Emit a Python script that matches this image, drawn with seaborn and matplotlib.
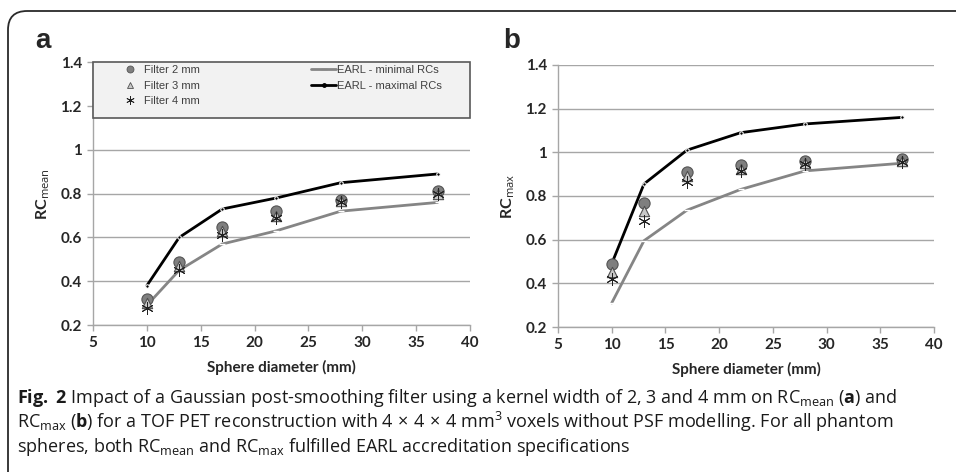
import numpy as np
import pandas as pd
import matplotlib
matplotlib.use("Agg")
import matplotlib.pyplot as plt
import seaborn as sns
from matplotlib.patches import FancyBboxPatch, Rectangle
from matplotlib.lines import Line2D

# sphere diameters (mm)
diameters = [10, 13, 17, 22, 28, 37]

# panel a: RC_mean
earl_min_mean = [0.29, 0.45, 0.57, 0.63, 0.72, 0.76]
earl_max_mean = [0.38, 0.60, 0.73, 0.78, 0.85, 0.89]
filt2_mean = [0.32, 0.49, 0.65, 0.72, 0.77, 0.81]
filt3_mean = [0.30, 0.47, 0.63, 0.70, 0.765, 0.80]
filt4_mean = [0.28, 0.45, 0.61, 0.69, 0.76, 0.80]

# panel b: RC_max
earl_min_max = [0.31, 0.595, 0.735, 0.83, 0.915, 0.95]
earl_max_max = [0.49, 0.855, 1.01, 1.09, 1.13, 1.16]
filt2_max = [0.49, 0.77, 0.91, 0.94, 0.96, 0.97]
filt3_max = [0.45, 0.73, 0.89, 0.925, 0.95, 0.96]
filt4_max = [0.42, 0.685, 0.865, 0.915, 0.945, 0.955]

x_ticks = [5, 10, 15, 20, 25, 30, 35, 40]
y_ticks = [0.2, 0.4, 0.6, 0.8, 1.0, 1.2, 1.4]
y_ticklabels = ['0.2', '0.4', '0.6', '0.8', '1', '1.2', '1.4']

sns.set_style("white")
plt.rcParams['font.family'] = ['Lato', 'DejaVu Sans']
plt.rcParams['mathtext.fontset'] = 'custom'
plt.rcParams['mathtext.rm'] = 'Open Sans'
plt.rcParams['mathtext.bf'] = 'Open Sans:bold'
plt.rcParams['mathtext.it'] = 'Open Sans:italic'

fig = plt.figure(figsize=(9.56, 4.72), dpi=100)

# rounded frame around figure + caption
frame = FancyBboxPatch((8 / 956, -0.1), 1.1, 1.1 - 11 / 472,
                       boxstyle="round,pad=0,rounding_size=0.02",
                       transform=fig.transFigure, fill=False,
                       edgecolor='#2a2a2a', linewidth=1.3, mutation_aspect=2)
fig.patches.append(frame)

ax_a = fig.add_axes([0.0973, 0.3114, 0.3943, 0.5566])
ax_b = fig.add_axes([0.5837, 0.3072, 0.3933, 0.5551])


def draw_panel(ax, earl_min, earl_max, f2, f3, f4, ylab):
    sns.lineplot(x=diameters, y=earl_min, ax=ax, color='#858585', linewidth=2,
                 marker='_', markersize=5, markeredgewidth=1, zorder=3)
    sns.lineplot(x=diameters, y=earl_max, ax=ax, color='black', linewidth=2,
                 marker='o', markersize=2.5, zorder=3)
    sns.scatterplot(x=diameters, y=f2, ax=ax, marker='o', s=65, color='#7f7f7f',
                    edgecolor='#555555', linewidth=0.8, zorder=4)
    sns.scatterplot(x=diameters, y=f3, ax=ax, marker='^', s=55, color='#c8c8c8',
                    edgecolor='#505050', linewidth=0.8, zorder=5)
    sns.scatterplot(x=diameters, y=f4, ax=ax, marker=(6, 2, 0), s=70, color='#222222',
                    edgecolor='#222222', linewidth=0.7, zorder=6)

    ax.set_xlim(5, 40)
    ax.set_ylim(0.2, 1.4)
    ax.set_xticks(x_ticks)
    ax.set_yticks(y_ticks)
    ax.set_yticklabels(y_ticklabels)
    ax.yaxis.grid(True, color='#a6a6a6', linewidth=1)
    ax.xaxis.grid(False)
    ax.set_axisbelow(True)
    for side in ['top', 'right']:
        ax.spines[side].set_visible(False)
    for side in ['left', 'bottom']:
        ax.spines[side].set_color('#a6a6a6')
        ax.spines[side].set_linewidth(1)
    ax.tick_params(axis='both', direction='out', length=4, width=1, color='#a6a6a6',
                   labelsize=11, pad=4, left=True, bottom=True)
    for lab in ax.get_xticklabels() + ax.get_yticklabels():
        lab.set_fontweight('bold')
    ax.set_xlabel('Sphere diameter (mm)', fontsize=11, fontweight='bold', labelpad=7)
    ax.set_ylabel(ylab, fontsize=11.5, fontweight='bold', labelpad=6)


draw_panel(ax_a, earl_min_mean, earl_max_mean, filt2_mean, filt3_mean, filt4_mean,
           r'RC$_{\mathrm{mean}}$')
draw_panel(ax_b, earl_min_max, earl_max_max, filt2_max, filt3_max, filt4_max,
           r'RC$_{\mathrm{max}}$')

# legend box in panel a
ax_a.add_patch(Rectangle((0, 0.788), 1, 0.212, transform=ax_a.transAxes,
                         facecolor='#f2f2f2', edgecolor='#595959', linewidth=1.2,
                         zorder=8, clip_on=False))
handles = [
    Line2D([], [], linestyle='none', marker='o', markersize=5, color='#7f7f7f',
           markeredgecolor='#555555', markeredgewidth=0.6),
    Line2D([], [], linestyle='none', marker='^', markersize=5, color='#c8c8c8',
           markeredgecolor='#505050', markeredgewidth=0.6),
    Line2D([], [], linestyle='none', marker=(6, 2, 0), markersize=6, color='#222222',
           markeredgewidth=0.6),
    Line2D([], [], color='#858585', linewidth=2, marker='_', markersize=5),
    Line2D([], [], color='black', linewidth=2, marker='o', markersize=2.5),
]
labels = ['Filter 2 mm', 'Filter 3 mm', 'Filter 4 mm',
          'EARL - minimal RCs', 'EARL - maximal RCs']
leg = ax_a.legend(handles, labels, ncol=2, mode='expand', loc='upper left',
                  bbox_to_anchor=(0.066, 0.79, 0.86, 0.199), borderaxespad=0,
                  borderpad=0, handlelength=2.25, handletextpad=0.1,
                  labelspacing=0.5, frameon=False,
                  prop={'family': 'Liberation Sans', 'size': 8})
for t in leg.get_texts():
    t.set_color('#404040')
leg.set_zorder(10)

# panel letters
fig.text(35 / 956, 1 - 48 / 472, 'a', fontsize=20, fontweight='bold',
         family=['Liberation Sans'], va='baseline')
fig.text(503 / 956, 1 - 48 / 472, 'b', fontsize=20, fontweight='bold',
         family=['Liberation Sans'], va='baseline')

# caption
cap_kw = dict(fontsize=13, color='#1a1a1a', va='baseline', ha='left',
              family=['Open Sans', 'DejaVu Sans'])
fig.text(17 / 956, 1 - 403 / 472,
         r'$\mathbf{Fig.}$ $\mathbf{2}$ Impact of a Gaussian post-smoothing filter using a kernel width of 2, 3 and 4 mm on RC$_{\mathrm{mean}}$ ($\mathbf{a}$) and',
         **cap_kw)
fig.text(17 / 956, 1 - 428 / 472,
         r'RC$_{\mathrm{max}}$ ($\mathbf{b}$) for a TOF PET reconstruction with 4$\,\times\,$4$\,\times\,$4 mm$^{3}$ voxels without PSF modelling. For all phantom',
         **cap_kw)
fig.text(17 / 956, 1 - 452 / 472,
         r'spheres, both RC$_{\mathrm{mean}}$ and RC$_{\mathrm{max}}$ fulfilled EARL accreditation specifications',
         **cap_kw)

fig.savefig('out.png', dpi=100)
